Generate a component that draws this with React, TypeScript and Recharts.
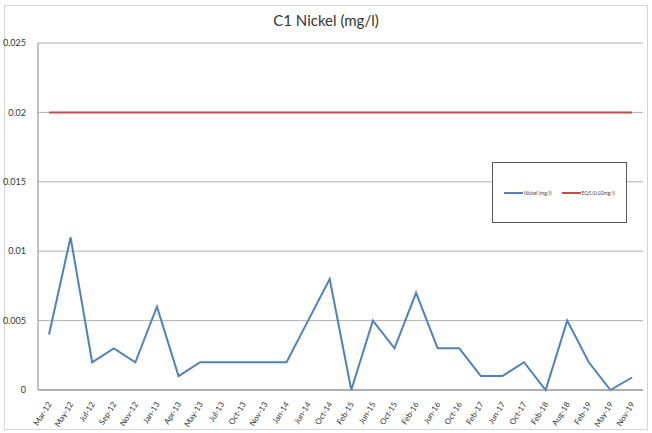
import React from "react";
import { LineChart, Line, XAxis, YAxis, CartesianGrid } from "recharts";

const categories = ["Mar-12","May-12","Jul-12","Sep-12","Nov-12","Jan-13","Apr-13","May-13","Jul-13","Oct-13","Nov-13","Jan-14","Jun-14","Oct-14","Feb-15","Jun-15","Oct-15","Feb-16","Jun-16","Oct-16","Feb-17","Jun-17","Oct-17","Feb-18","Aug-18","Feb-19","May-19","Nov-19"];
const nickel = [0.004,0.011,0.002,0.003,0.002,0.006,0.001,0.002,0.002,0.002,0.002,0.002,0.005,0.008,0,0.005,0.003,0.007,0.003,0.003,0.001,0.001,0.002,0,0.005,0.002,0,0.0009];
const eqs = categories.map(() => 0.02);
const yTicks = [0, 0.005, 0.01, 0.015, 0.02, 0.025];

const data = categories.map((c, i) => ({ name: c, nickel: nickel[i], eqs: eqs[i] }));

const FONT = "Lato, 'Liberation Sans', sans-serif";

const XTick = (props: any) => {
  const { x, y, payload } = props;
  return (
    <text x={x + 3} y={y + 6} transform={`rotate(-58, ${x + 3}, ${y + 6})`} textAnchor="end" fontSize={8} fill="#333" fontFamily={FONT}>
      {payload.value}
    </text>
  );
};

const LegendBox = () => (
  <div style={{ position: "absolute", left: 492, top: 162, width: 135, height: 61, border: "1px solid #555", boxSizing: "border-box", background: "#fff", display: "flex", alignItems: "center", justifyContent: "center", fontFamily: FONT, fontSize: 5, color: "#444" }}>
    <span style={{ display: "inline-block", width: 19, height: 2, background: "#4F81BD", marginRight: 1 }} />
    <span style={{ marginRight: 10 }}>Nickel (mg/l)</span>
    <span style={{ display: "inline-block", width: 19, height: 2, background: "#C0504D", marginRight: 1 }} />
    <span>EQS (0.02mg/l)</span>
  </div>
);

export default function App() {
  return (
    <div style={{ position: "absolute", left: 0, top: 0, width: 652, height: 433, background: "#fff" }}>
      <div style={{ position: "absolute", left: 4, top: 5, width: 644, height: 425, border: "1px solid #d4d4d4", boxSizing: "border-box" }} />
      <div style={{ position: "absolute", left: 0, top: 11, width: 652, textAlign: "center", fontFamily: FONT, fontSize: 15, color: "#333" }}>
        C1 Nickel (mg/l)
      </div>
      <LineChart width={652} height={433} data={data} margin={{ top: 43, right: 9, bottom: 3, left: 0 }} style={{ position: "absolute", left: 0, top: 0 }}>
        <CartesianGrid vertical={false} stroke="#b0b0b0" />
        <XAxis dataKey="name" interval={0} tickLine={false} axisLine={{ stroke: "#888" }} height={40} tick={<XTick />} padding={{ left: 11, right: 11 }} />
        <YAxis domain={[0, 0.025]} ticks={yTicks} width={38} tickLine={false} axisLine={{ stroke: "#888" }} tick={{ fontSize: 9, fill: "#333", fontFamily: FONT }} tickFormatter={(v: number) => String(v)} tickMargin={6} />
        <Line dataKey="nickel" stroke="#4F81BD" strokeWidth={2} dot={false} isAnimationActive={false} />
        <Line dataKey="eqs" stroke="#C0504D" strokeWidth={2} dot={false} isAnimationActive={false} />
      </LineChart>
      <LegendBox />
    </div>
  );
}
